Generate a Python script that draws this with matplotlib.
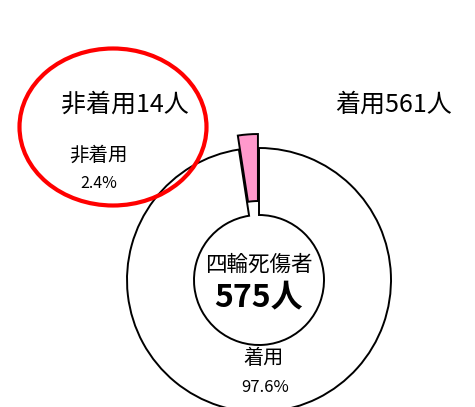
import matplotlib.pyplot as plt
from matplotlib.patches import Ellipse

plt.rcParams['font.family'] = ['Noto Sans CJK JP', 'DejaVu Sans']

# data
kategorier = ['非着用', '着用']
antall = [14, 561]
prosent = [2.4, 97.6]
farger = ['#FF99CC', 'white']
totalt = 575

W, H = 475, 407
fig = plt.figure(figsize=(W / 100, H / 100), dpi=100)
ax = fig.add_axes([0, 0, 1, 1])

# doughnut, pink slice exploded at the top
cx, cy, R, r = 259, H - 280, 132, 65
ax.pie(antall, colors=farger, startangle=90, counterclock=True,
       center=(cx, cy), radius=R, explode=[14, 0],
       wedgeprops=dict(width=R - r, edgecolor='black', linewidth=1.4))

ax.set_xlim(0, W)
ax.set_ylim(0, H)
ax.set_aspect('equal')
ax.axis('off')

# red ring around the non-wearer label
ax.add_patch(Ellipse((113, H - 127), 187, 157, fill=False,
                     edgecolor='#FF0000', linewidth=3))

ax.text(125, H - 105, f'{kategorier[0]}{antall[0]}人', fontsize=18,
        ha='center', va='center')
ax.text(394, H - 105, f'{kategorier[1]}{antall[1]}人', fontsize=18,
        ha='center', va='center')

ax.text(98, H - 155, kategorier[0], fontsize=14, ha='center', va='center')
ax.text(99, H - 183, f'{prosent[0]}%', fontsize=11.5, ha='center', va='center')
ax.text(264, H - 358, kategorier[1], fontsize=14.5, ha='center', va='center')
ax.text(265, H - 387, f'{prosent[1]}%', fontsize=12, ha='center', va='center')

ax.text(cx, H - 265, '四輪死傷者', fontsize=15.5, ha='center', va='center')
ax.text(cx, H - 297, f'{totalt}人', fontsize=23, fontweight='bold',
        ha='center', va='center')

# title cut off at the top edge
fig.text(155 / W, 1 - 2 / H, '着用率', fontsize=12, color='#FF0000',
         ha='center', va='bottom')

fig.savefig('out.png', dpi=100)
